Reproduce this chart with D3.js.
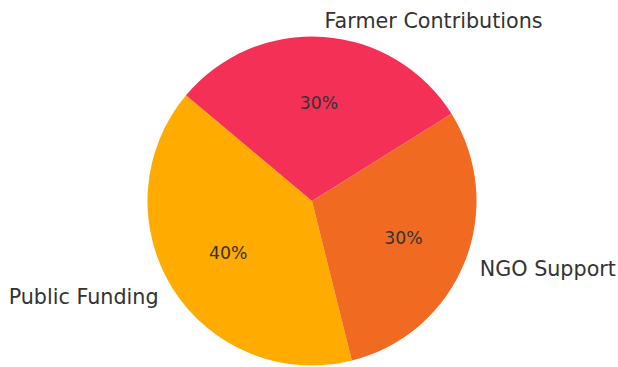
<!DOCTYPE html>
<html>
<head>
<meta charset="utf-8">
<script src="https://cdn.jsdelivr.net/npm/d3@7"></script>
<style>
  body { margin: 0; background: #fff; }
  text { font-family: "DejaVu Sans", sans-serif; fill: #333; }
</style>
</head>
<body>
<div id="chart"></div>
<script>
const categories = ['Public Funding', 'NGO Support', 'Farmer Contributions'];
const shares = [40, 30, 30];
const colors = ['#ffab00', '#f06a22', '#f43057'];

const width = 618;
const height = 367;
const center = [312, 201];
const radius = 164.5;

const svg = d3.select('#chart')
  .append('svg')
  .attr('width', width)
  .attr('height', height);

const g = svg.append('g')
  .attr('transform', `translate(${center[0]}, ${center[1]})`);

// start at 140deg (math angle), go counter-clockwise
const start = (90 - 140) * Math.PI / 180;
const pie = d3.pie()
  .sort(null)
  .value(d => d.value)
  .startAngle(start)
  .endAngle(start - 2 * Math.PI);

const data = categories.map((name, i) => ({ name, value: shares[i], color: colors[i] }));
const arcs = pie(data);

const arc = d3.arc().innerRadius(0).outerRadius(radius);

g.selectAll('path.slice')
  .data(arcs)
  .join('path')
  .attr('class', 'slice')
  .attr('d', arc)
  .attr('fill', d => d.data.color);

const mid = d => (d.startAngle + d.endAngle) / 2;

g.selectAll('text.pct')
  .data(arcs)
  .join('text')
  .attr('class', 'pct')
  .attr('x', d => Math.sin(mid(d)) * radius * 0.6)
  .attr('y', d => -Math.cos(mid(d)) * radius * 0.6)
  .attr('text-anchor', 'middle')
  .attr('dominant-baseline', 'central')
  .style('font-size', '17.3px')
  .text(d => `${d.data.value}%`);

g.selectAll('text.label')
  .data(arcs)
  .join('text')
  .attr('class', 'label')
  .attr('x', d => Math.sin(mid(d)) * radius * 1.1)
  .attr('y', d => -Math.cos(mid(d)) * radius * 1.1)
  .attr('text-anchor', d => (Math.sin(mid(d)) > 0 ? 'start' : 'end'))
  .attr('dominant-baseline', 'central')
  .style('font-size', '20.7px')
  .text(d => d.data.name);
</script>
</body>
</html>
